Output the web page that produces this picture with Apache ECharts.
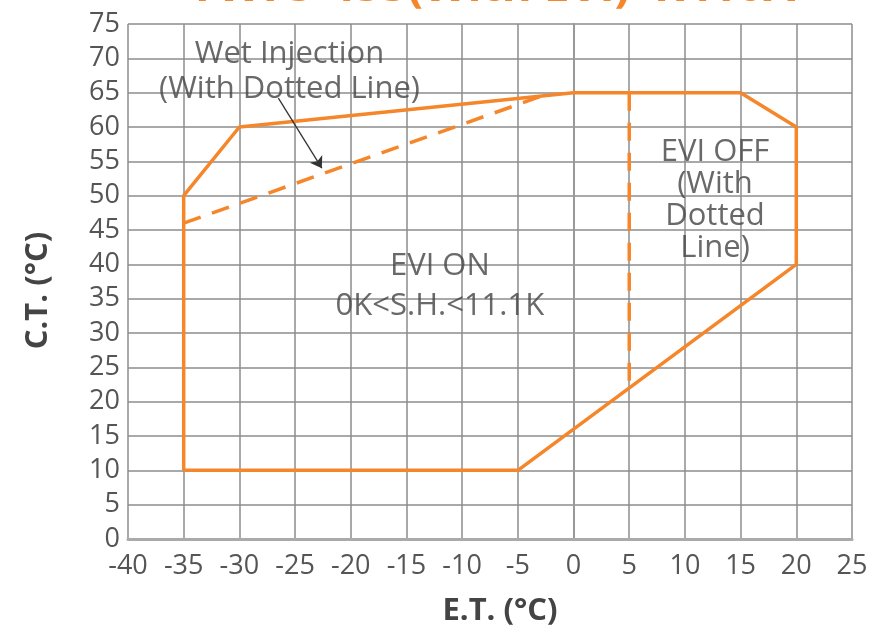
<!DOCTYPE html>
<html>
<head>
<meta charset="utf-8">
<script src="https://cdn.jsdelivr.net/npm/echarts@6/dist/echarts.min.js"></script>
<style>
html,body{margin:0;padding:0;background:#fff;}
#chart{width:882px;height:635px;}
</style>
</head>
<body>
<div id="chart"></div>
<script>
// ---- data ----
const titleText = 'YW75-455(With EVI)  R410A';
const xAxisName = 'E.T. (°C)';
const yAxisName = 'C.T. (°C)';
const xMin = -40, xMax = 25, xStep = 5;
const yMin = 0, yMax = 75, yStep = 5;

// operating envelope (solid)
const envelopeET = [-35, -35, -30, 0, 15, 20, 20, -5, -35];
const envelopeCT = [10, 50, 60, 65, 65, 60, 40, 10, 10];
// wet injection boundary (dashed)
const wetET = [-35, -2];
const wetCT = [46, 65];
// EVI off boundary (dashed)
const eviOffET = [5, 5];
const eviOffCT = [65, 23];
// arrow from label to wet-injection line
const arrowET = [-26.5, -22.6];
const arrowCT = [64.2, 54];

// annotations
const noteTexts = ['Wet Injection\n(With Dotted Line)', 'EVI ON\n0K<S.H.<11.1K', 'EVI OFF\n(With\nDotted\nLine)'];
const noteET = [-25.5, -12, 12.7];
const noteCT = [68.1, 36.8, 49.4];
const noteLineHeights = [35, 40, 32];

// ---- build ----
const ORANGE = '#F5862A';
const zip = (a, b) => a.map((v, i) => [v, b[i]]);
const chart = echarts.init(document.getElementById('chart'));
const font = '"Open Sans", "Noto Sans", sans-serif';

chart.setOption({
  animation: false,
  backgroundColor: '#fff',
  textStyle: { fontFamily: font },
  grid: { left: 128, right: 30, top: 24, bottom: 96, containLabel: false },
  graphic: [{
    type: 'text', x: 188, y: 11,
    style: { text: titleText, fill: ORANGE, font: 'bold 46px ' + font, verticalAlign: 'bottom' }
  }],
  xAxis: {
    type: 'value', min: xMin, max: xMax, interval: xStep,
    name: xAxisName, nameLocation: 'middle', nameGap: 57,
    nameTextStyle: { fontSize: 31, fontWeight: 'bold', color: '#444', fontFamily: font, padding: [0, 0, 0, 20] },
    axisLine: { show: true, lineStyle: { color: '#aaa', width: 3 } },
    axisTick: { show: false },
    axisLabel: { fontSize: 27, color: '#555', margin: 14, fontFamily: font },
    splitLine: { show: true, lineStyle: { color: '#8c8c8c', width: 1.5 } }
  },
  yAxis: {
    type: 'value', min: yMin, max: yMax, interval: yStep,
    name: yAxisName, nameLocation: 'middle', nameGap: 74, nameRotate: 90,
    nameTextStyle: { fontSize: 31, fontWeight: 'bold', color: '#444', fontFamily: font, padding: [0, 18, 0, 0] },
    axisLine: { show: true, lineStyle: { color: '#999', width: 2 } },
    axisTick: { show: false },
    axisLabel: { fontSize: 27, color: '#555', margin: 8, fontFamily: font },
    splitLine: { show: true, lineStyle: { color: '#8c8c8c', width: 1.5 } }
  },
  series: [
    {
      type: 'line', data: zip(envelopeET, envelopeCT), symbol: 'none',
      lineStyle: { color: ORANGE, width: 3.5 }, z: 5
    },
    {
      type: 'line', data: zip(wetET, wetCT), symbol: 'none',
      lineStyle: { color: ORANGE, width: 3.5, type: [18, 12] }, z: 5
    },
    {
      type: 'line', data: zip(eviOffET, eviOffCT), symbol: 'none',
      lineStyle: { color: ORANGE, width: 3.5, type: [18, 12] }, z: 5
    },
    {
      type: 'lines', coordinateSystem: 'cartesian2d',
      data: [{ coords: zip(arrowET, arrowCT) }],
      symbol: ['none', 'arrow'], symbolSize: 11,
      lineStyle: { color: '#333', width: 1.3, opacity: 1 }, z: 6
    },
    {
      type: 'scatter', symbolSize: 0, silent: true, z: 7,
      data: noteTexts.map((t, i) => ({
        value: [noteET[i], noteCT[i]], name: t,
        label: { lineHeight: noteLineHeights[i] }
      })),
      label: {
        show: true, position: 'inside', formatter: p => p.name,
        fontSize: 31, color: '#444', align: 'center', fontFamily: font
      }
    }
  ]
});
</script>
</body>
</html>
